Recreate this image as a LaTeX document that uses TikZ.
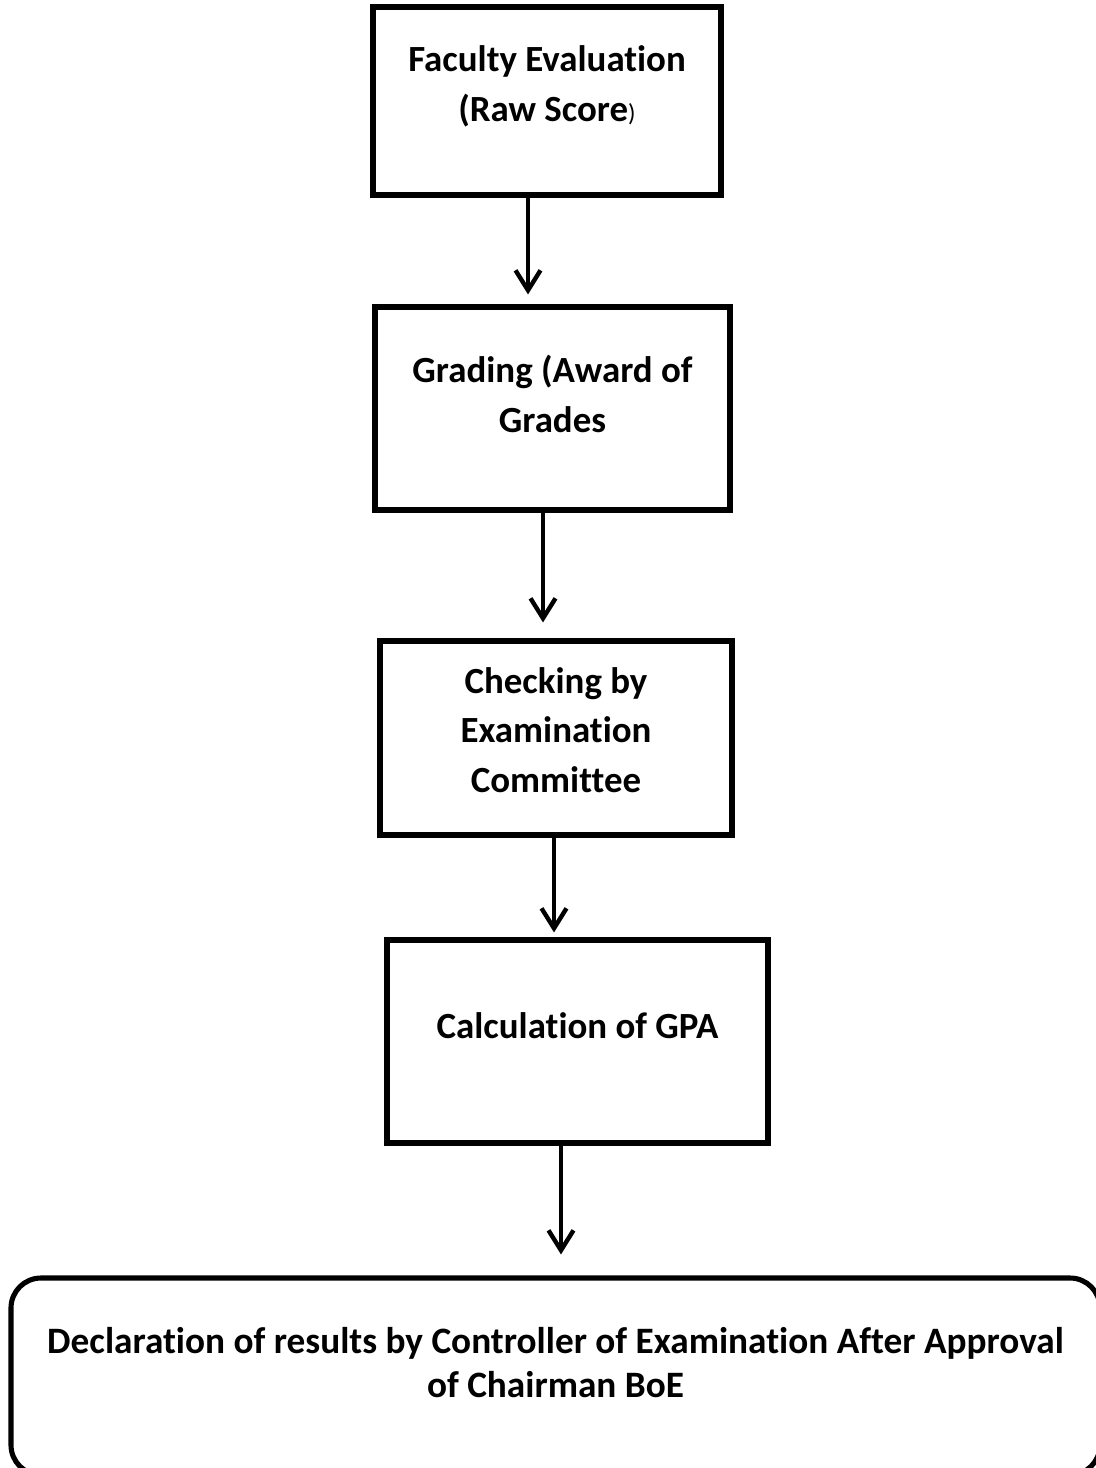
\documentclass[tikz,border=0pt]{standalone}
\usepackage{fontspec}
\setmainfont[Ligatures={NoCommon}]{Carlito}
\usepackage{xcolor}
\usepackage{tikz}
\usetikzlibrary{shapes.geometric, arrows.meta, positioning, calc}

\begin{document}
\begin{tikzpicture}[
    box/.style={rectangle, draw, line width=2.9pt, align=center,
        font=\bfseries\fontsize{21}{28.4}\selectfont, inner sep=0pt},
    endbox/.style={rectangle, draw, line width=2.9pt, rounded corners=0.6cm, align=center,
        font=\bfseries\fontsize{21.2}{25.5}\selectfont, inner sep=0pt},
    arrow/.style={-{Straight Barb[length=0.4cm, width=0.5cm]}, line width=2.5pt}
]
    \useasboundingbox (0, 0) rectangle (21.9, -29.36);

    % Main flow
    \node[box, minimum width=6.96cm, minimum height=3.76cm, text depth=0.68cm] (faculty) at (10.94, -2.02)
        {Faculty Evaluation\\(Raw Score{\normalfont\fontsize{14}{14}\selectfont)}};
    \node[box, minimum width=7.10cm, minimum height=4.06cm, text depth=0.58cm] (grading) at (11.05, -8.17)
        {Grading (Award of\\Grades};
    \node[box, minimum width=7.04cm, minimum height=3.88cm, text depth=0.32cm] (checking) at (11.12, -14.76)
        {Checking by\\Examination\\Committee};
    \node[box, minimum width=7.62cm, minimum height=4.06cm, text depth=0.62cm] (gpa) at (11.55, -20.83)
        {Calculation of GPA};

    \node[endbox, minimum width=21.78cm, minimum height=3.94cm, text depth=0.56cm] (result) at (11.11, -27.53)
        {Declaration of results by Controller of Examination After Approval\\of Chairman BoE};

    % Arrows
    \draw[arrow, shorten >=0.2cm] ([xshift=-0.38cm]faculty.south) -- ([xshift=-0.38cm]faculty.south |- grading.north);
    \draw[arrow, shorten >=0.32cm] ([xshift=-0.19cm]grading.south) -- ([xshift=-0.19cm]grading.south |- checking.north);
    \draw[arrow, shorten >=0.1cm] ([xshift=-0.04cm]checking.south) -- ([xshift=-0.04cm]checking.south |- gpa.north);
    \draw[arrow, shorten >=0.42cm] ([xshift=-0.33cm]gpa.south) -- ([xshift=-0.33cm]gpa.south |- result.north);

\end{tikzpicture}
\end{document}
